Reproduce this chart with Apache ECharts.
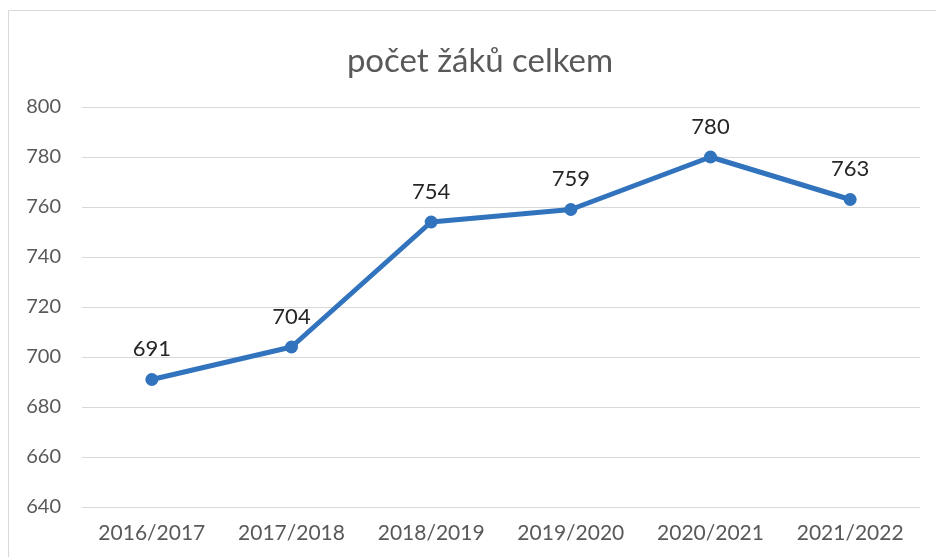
<!DOCTYPE html>
<html><head><meta charset="utf-8">
<script src="https://cdn.jsdelivr.net/npm/echarts@6/dist/echarts.min.js"></script>
<style>html,body{margin:0;padding:0;background:#fff}#c{width:936px;height:557px}</style>
</head><body><div id="c"></div>
<script>
const categories = ['2016/2017','2017/2018','2018/2019','2019/2020','2020/2021','2021/2022'];
const values = [691, 704, 754, 759, 780, 763];
const yMin = 640, yMax = 800, yStep = 20;
const titleText = 'počet žáků celkem';

const chart = echarts.init(document.getElementById('c'));
chart.setOption({
  backgroundColor: '#fff',
  animation: false,
  grid: {left: 82, right: 16, top: 107, bottom: 50},
  graphic: [
    {type:'rect', shape:{x:8.5,y:10.5,width:940,height:560}, style:{fill:'none', stroke:'#d9d9d9', lineWidth:1}, silent:true},
    {type:'text', x:480, y:61, style:{text:titleText, fontFamily:'Lato', fontSize:33, fill:'#595959', align:'center', verticalAlign:'middle'}, silent:true}
  ],
  xAxis: {
    type: 'category', data: categories, boundaryGap: true,
    axisLine: {show: false}, axisTick: {show: false},
    axisLabel: {fontFamily: 'Lato', fontSize: 21, color: '#595959', margin: 16}
  },
  yAxis: {
    type: 'value', min: yMin, max: yMax, interval: yStep,
    axisLine: {show: false}, axisTick: {show: false},
    axisLabel: {fontFamily: 'Lato', fontSize: 20, color: '#595959', margin: 21},
    splitLine: {lineStyle: {color: '#d9d9d9', width: 1}}
  },
  series: [{
    type: 'line', data: values,
    lineStyle: {color: '#3273bd', width: 5},
    itemStyle: {color: '#3273bd'},
    symbol: 'circle', symbolSize: 13,
    label: {show: true, position: 'top', distance: 13, fontFamily: 'Lato', fontSize: 22, color: '#262626'}
  }]
});
</script></body></html>
